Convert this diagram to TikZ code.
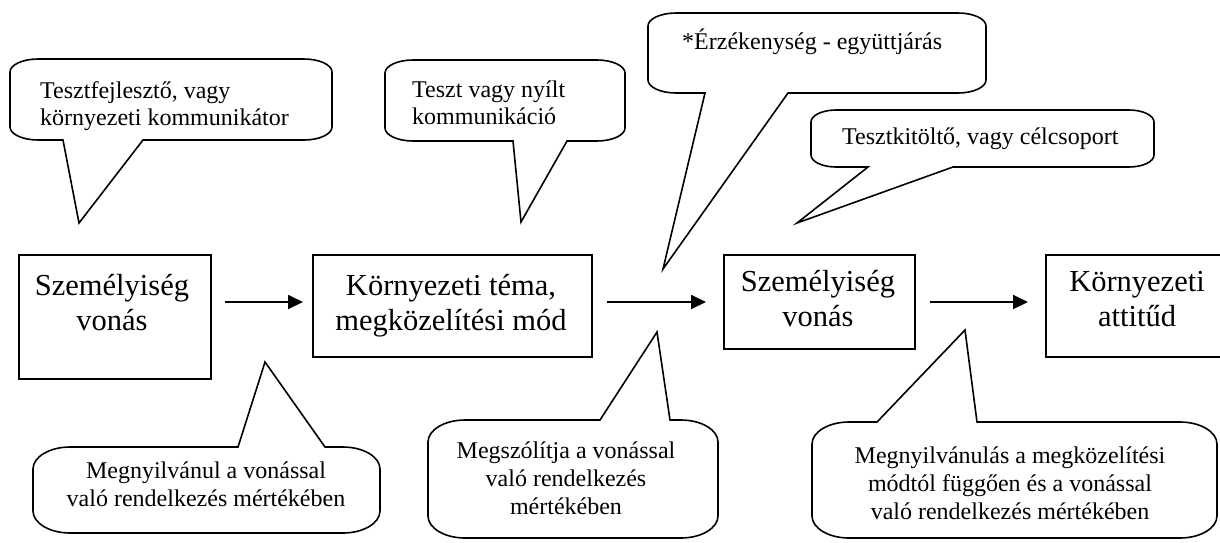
\documentclass[tikz,border=0pt]{standalone}
\usepackage{fontspec}
\setmainfont{Liberation Serif}
\usetikzlibrary{arrows.meta}
\def\crx{28}\def\cry{13}
% tail on the bottom edge: x1 y1 x2 y2 baseleft baseright tipx tipy
\newcommand\CalloutDown[8]{%
 \draw[callout] (#5,#4) -- ({#1+\crx},#4)
   .. controls ({#1+0.45*\crx},#4) and (#1,{#4-0.45*\cry}) .. (#1,{#4-\cry})
   -- (#1,{#2+\cry})
   .. controls (#1,{#2+0.45*\cry}) and ({#1+0.45*\crx},#2) .. ({#1+\crx},#2)
   -- ({#3-\crx},#2)
   .. controls ({#3-0.45*\crx},#2) and (#3,{#2+0.45*\cry}) .. (#3,{#2+\cry})
   -- (#3,{#4-\cry})
   .. controls (#3,{#4-0.45*\cry}) and ({#3-0.45*\crx},#4) .. ({#3-\crx},#4)
   -- (#6,#4) -- (#7,#8) -- cycle;}
% tail on the top edge
\newcommand\CalloutUp[8]{%
 \draw[callout] (#5,#2) -- (#7,#8) -- (#6,#2) -- ({#3-\crx},#2)
   .. controls ({#3-0.45*\crx},#2) and (#3,{#2+0.45*\cry}) .. (#3,{#2+\cry})
   -- (#3,{#4-\cry})
   .. controls (#3,{#4-0.45*\cry}) and ({#3-0.45*\crx},#4) .. ({#3-\crx},#4)
   -- ({#1+\crx},#4)
   .. controls ({#1+0.45*\crx},#4) and (#1,{#4-0.45*\cry}) .. (#1,{#4-\cry})
   -- (#1,{#2+\cry})
   .. controls (#1,{#2+0.45*\cry}) and ({#1+0.45*\crx},#2) .. ({#1+\crx},#2)
   -- cycle;}
\begin{document}
\begin{tikzpicture}[x=1pt,y=-1pt,
  box/.style={draw, line width=1.8pt, rectangle, inner sep=0pt, anchor=north west},
  boxtext/.style={anchor=base, inner sep=0pt, font=\fontsize{30.5}{35.5}\selectfont},
  calltext/.style={anchor=base west, inner sep=0pt, font=\fontsize{24}{27.8}\selectfont},
  calltextc/.style={anchor=base, inner sep=0pt, font=\fontsize{24}{28.3}\selectfont},
  callout/.style={draw, line width=1.6pt, line join=miter, fill=white},
  arr/.style={draw, line width=1.8pt, -{Triangle[length=15pt,width=14pt]}}]
\useasboundingbox (0,0) rectangle (1220,542);
\clip (0,0) rectangle (1220,542);

% boxes
\node[box, minimum width=192, minimum height=124] (b1) at (18,254) {};
\node[box, minimum width=279, minimum height=102] (b2) at (312,254) {};
\node[box, minimum width=191, minimum height=94] (b3) at (723,254) {};
\node[box, minimum width=184, minimum height=102] (b4) at (1045,254) {};

\node[boxtext] (t1) at (112,295) {\begin{tabular}[t]{@{}c@{}}Személyiség\\vonás\end{tabular}};
\node[boxtext] (t2) at (451,295) {\begin{tabular}[t]{@{}c@{}}Környezeti téma,\\megközelítési mód\end{tabular}};
\node[boxtext] (t3) at (818,291) {\begin{tabular}[t]{@{}c@{}}Személyiség\\vonás\end{tabular}};
\node[boxtext] (t4) at (1137,291) {\begin{tabular}[t]{@{}c@{}}Környezeti\\attitűd\end{tabular}};

% arrows
\draw[arr, shorten <=13pt, shorten >=9pt] (b1.east |- 0,302) -- (b2.west |- 0,302);
\draw[arr, shorten <=14pt, shorten >=17pt] (b2.east |- 0,302) -- (b3.west |- 0,302);
\draw[arr, shorten <=14pt, shorten >=17pt] (b3.east |- 0,302) -- (b4.west |- 0,302);

% callouts above
\def\crx{28}\def\cry{13}
\CalloutDown{10}{59}{332}{140}{63}{143}{79}{223}
\node[calltext] (c1) at (40,98) {\begin{tabular}[t]{@{}l@{}}Tesztfejlesztő, vagy\\környezeti kommunikátor\end{tabular}};
\CalloutDown{385}{60}{625}{141}{513}{567}{521}{222}
\node[calltext] (c2) at (412,97) {\begin{tabular}[t]{@{}l@{}}Teszt vagy nyílt\\kommunikáció\end{tabular}};
\CalloutDown{648}{13}{986}{93}{705}{788}{663}{269}
\node[calltext] (c3) at (682,49) {*Érzékenység - együttjárás};
\def\crx{25}\def\cry{12}
\CalloutDown{811}{110}{1154}{167}{868}{953}{797}{223}
\node[calltext] (c4) at (842,144) {Tesztkitöltő, vagy célcsoport};

% callouts below
\def\crx{37}\def\cry{22}
\CalloutUp{33}{447}{380}{533}{238}{325}{265}{362}
\node[calltextc] (c5) at (206,478) {\begin{tabular}[t]{@{}c@{}}Megnyilvánul a vonással\\való rendelkezés mértékében\end{tabular}};
\CalloutUp{428}{420}{718}{538}{600}{670}{657}{332}
\node[calltextc] (c6) at (566,458) {\begin{tabular}[t]{@{}c@{}}Megszólítja a vonással\\való rendelkezés\\mértékében\end{tabular}};
\CalloutUp{812}{422}{1217}{538}{877}{977}{965}{330}
\node[calltextc] (c7) at (1010,463) {\begin{tabular}[t]{@{}c@{}}Megnyilvánulás a megközelítési\\módtól függően és a vonással\\való rendelkezés mértékében\end{tabular}};
\end{tikzpicture}
\end{document}
